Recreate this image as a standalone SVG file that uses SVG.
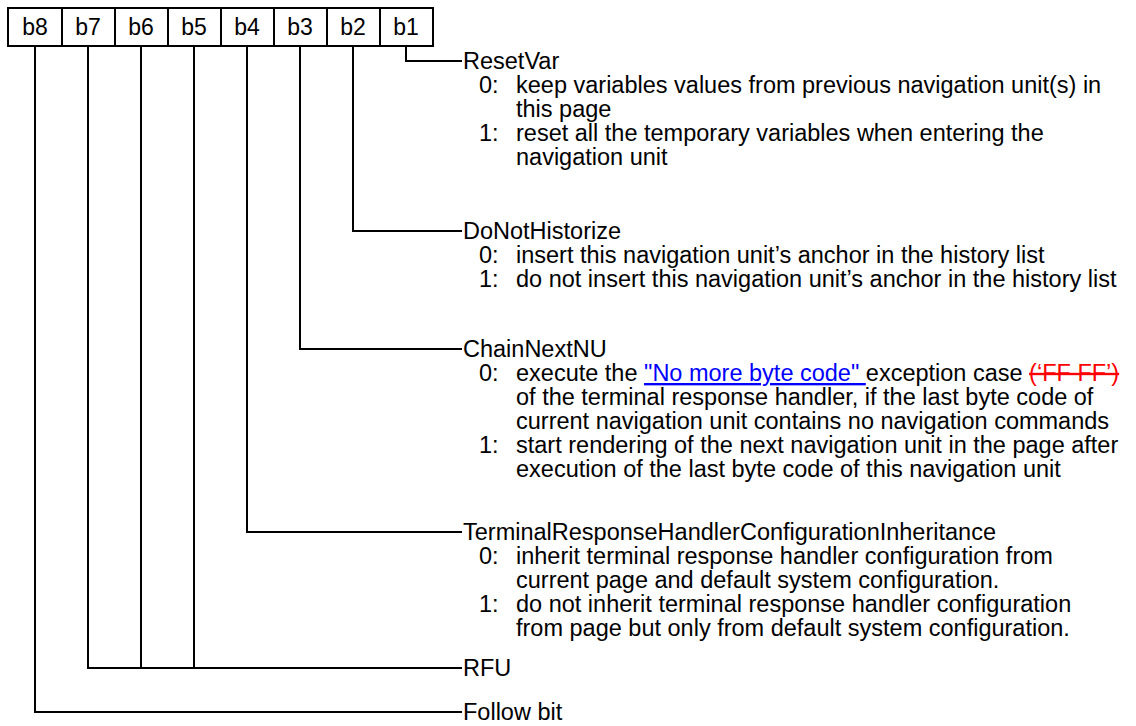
<svg xmlns="http://www.w3.org/2000/svg" width="1136" height="726" viewBox="0 0 1136 726">
<style>
text{font-family:"Liberation Sans",Arial,sans-serif;font-size:23.5px;fill:#000}
.cell{fill:#fff;stroke:#000;stroke-width:2}
.c{fill:none;stroke:#000;stroke-width:2}
.lbl{text-anchor:middle;font-size:23px}
.link{fill:#0000ff;text-decoration:underline}
.del{fill:#ff0000;text-decoration:line-through}
</style>
<rect width="1136" height="726" fill="#fff"/>
<g id="register">
<rect class="cell" x="8" y="8" width="425" height="38"/>
<line class="c" x1="62" y1="8" x2="62" y2="46"/>
<line class="c" x1="115" y1="8" x2="115" y2="46"/>
<line class="c" x1="168" y1="8" x2="168" y2="46"/>
<line class="c" x1="221" y1="8" x2="221" y2="46"/>
<line class="c" x1="274" y1="8" x2="274" y2="46"/>
<line class="c" x1="327" y1="8" x2="327" y2="46"/>
<line class="c" x1="380" y1="8" x2="380" y2="46"/>
<text class="lbl" x="35" y="35">b8</text>
<text class="lbl" x="88" y="35">b7</text>
<text class="lbl" x="141" y="35">b6</text>
<text class="lbl" x="194" y="35">b5</text>
<text class="lbl" x="247" y="35">b4</text>
<text class="lbl" x="300" y="35">b3</text>
<text class="lbl" x="353" y="35">b2</text>
<text class="lbl" x="406" y="35">b1</text>
</g>
<g id="connectors">
<polyline class="c" points="406,46 406,61 462,61"/>
<polyline class="c" points="353,46 353,231 462,231"/>
<polyline class="c" points="300,46 300,349 462,349"/>
<polyline class="c" points="247,46 247,532 462,532"/>
<polyline class="c" points="88,46 88,668 462,668"/>
<line class="c" x1="141" y1="46" x2="141" y2="668"/>
<line class="c" x1="194" y1="46" x2="194" y2="668"/>
<polyline class="c" points="35,46 35,712 462,712"/>
</g>
<g id="resetvar">
<text x="463" y="69">ResetVar</text>
<text x="479" y="93">0:</text>
<text x="516" y="93">keep variables values from previous navigation unit(s) in</text>
<text x="516" y="117">this page</text>
<text x="479" y="141">1:</text>
<text x="516" y="141">reset all the temporary variables when entering the</text>
<text x="516" y="165">navigation unit</text>
</g>
<g id="donothistorize">
<text x="463" y="239">DoNotHistorize</text>
<text x="479" y="263">0:</text>
<text x="516" y="263">insert this navigation unit’s anchor in the history list</text>
<text x="479" y="287">1:</text>
<text x="516" y="287">do not insert this navigation unit’s anchor in the history list</text>
</g>
<g id="chainnextnu">
<text x="463" y="357">ChainNextNU</text>
<text x="479" y="381">0:</text>
<text x="516" y="381">execute the <tspan class="link">"No more byte code" </tspan>exception case <tspan class="del">(‘FF FF’)</tspan></text>
<text x="516" y="405">of the terminal response handler, if the last byte code of</text>
<text x="516" y="429">current navigation unit contains no navigation commands</text>
<text x="479" y="453">1:</text>
<text x="516" y="453">start rendering of the next navigation unit in the page after</text>
<text x="516" y="477">execution of the last byte code of this navigation unit</text>
</g>
<g id="inheritance">
<text x="463" y="540">TerminalResponseHandlerConfigurationInheritance</text>
<text x="479" y="564">0:</text>
<text x="516" y="564">inherit terminal response handler configuration from</text>
<text x="516" y="588">current page and default system configuration.</text>
<text x="479" y="612">1:</text>
<text x="516" y="612">do not inherit terminal response handler configuration</text>
<text x="516" y="636">from page but only from default system configuration.</text>
</g>
<g id="rfu"><text x="463" y="676">RFU</text></g>
<g id="followbit"><text x="463" y="720">Follow bit</text></g>
</svg>
